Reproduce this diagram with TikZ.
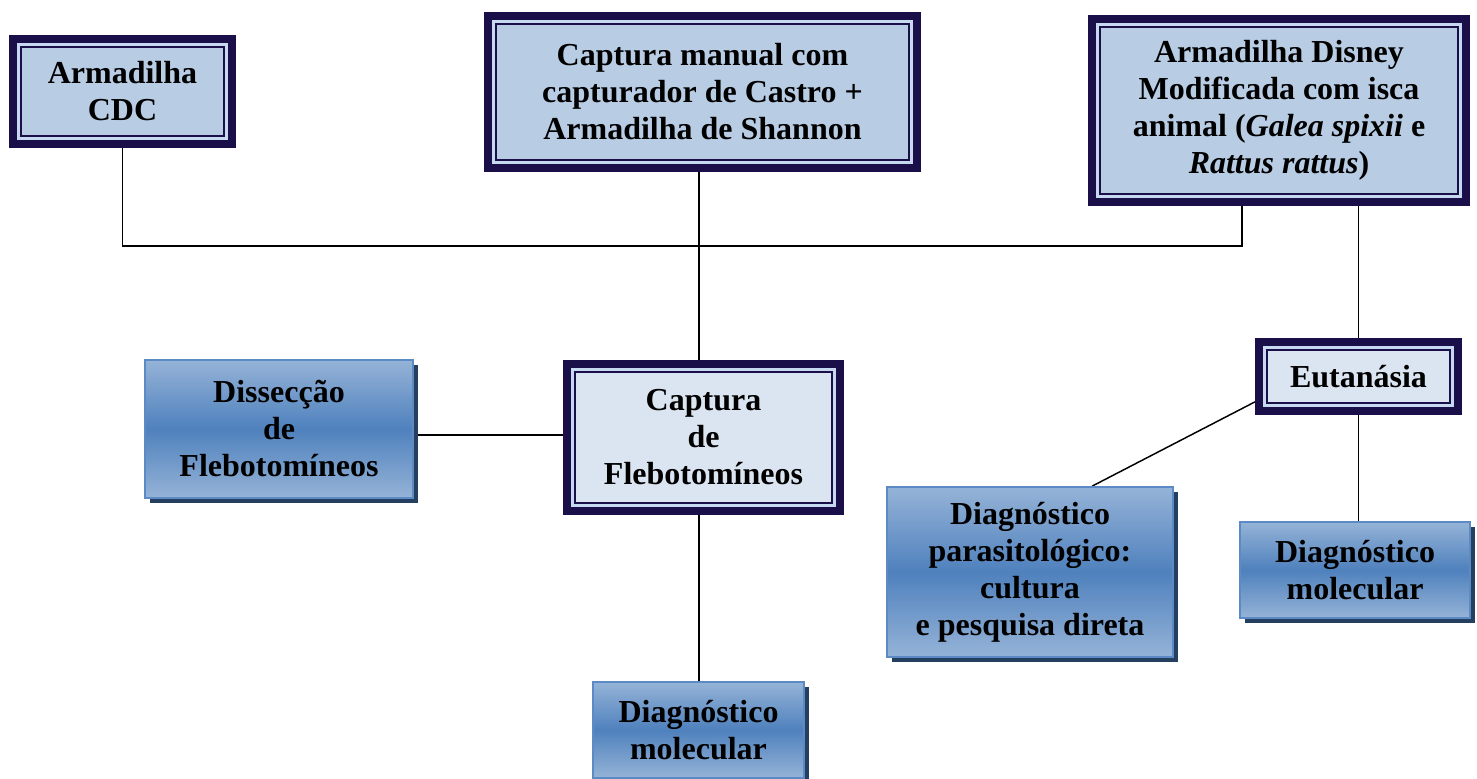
\documentclass[tikz,border=0pt]{standalone}
\usepackage{fontspec}
\setmainfont{Liberation Serif}
\usepackage{tikz}
\usetikzlibrary{backgrounds,calc,shadows,positioning}
\definecolor{framenavy}{HTML}{1B0F4A}
\definecolor{bandblue}{HTML}{C6D9F0}
\definecolor{fillblue}{HTML}{B8CCE4}
\definecolor{paleblue}{HTML}{DBE5F1}
\definecolor{gradlight}{HTML}{95B3D7}
\definecolor{graddark}{HTML}{4F81BD}
\definecolor{edgeblue}{HTML}{5B8AC4}
\definecolor{shadowblue}{HTML}{243F60}

\begin{document}
\begin{tikzpicture}[x=0.75pt,y=-0.75pt,
  txt/.style={font=\bfseries\fontsize{24}{27.75}\selectfont, align=center, inner sep=0pt},
  framed/.style={txt, draw=framenavy, line width=6pt, fill=bandblue,
    path picture={\draw[framenavy, line width=1.5pt, fill=#1]
      ([shift={(6pt,-6pt)}]path picture bounding box.north west) rectangle
      ([shift={(-6pt,6pt)}]path picture bounding box.south east);}},
  framed/.default=fillblue,
  shaded/.style={txt, draw=edgeblue, line width=1.2pt,
    top color=gradlight, bottom color=gradlight, middle color=graddark,
    drop shadow={shadow xshift=3.75pt, shadow yshift=-3.75pt, fill=shadowblue, opacity=1}},
  link/.style={black, line width=1.1pt}]
\useasboundingbox (0,0) rectangle (1477,778);

\node[framed, minimum width=164.25pt, minimum height=78.75pt] (cdc) at (122.5,91.5) {Armadilha\\CDC};
\node[framed, minimum width=321.75pt, minimum height=114pt] (manual) at (702.5,92) {Captura manual com\\capturador de Castro +\\Armadilha de Shannon};
\node[framed, minimum width=280.5pt, minimum height=137.25pt] (disney) at (1279,110.5) {Armadilha Disney\\Modificada com isca\\animal (\textit{Galea spixii} e\\\textit{Rattus rattus})};
\node[framed=paleblue, minimum width=204.75pt, minimum height=110.25pt] (capt) at (703.5,437.5) {Captura\\de\\Flebotomíneos};
\node[framed=paleblue, minimum width=149.25pt, minimum height=51.75pt] (eut) at (1358.5,376.5) {Eutanásia};

\node[shaded, minimum width=201pt, minimum height=103.5pt] (diss) at (279,429) {Dissecção\\de\\Flebotomíneos};
\node[shaded, minimum width=214.5pt, minimum height=127.5pt] (para) at (1030,572) {Diagnóstico\\parasitológico:\\cultura\\ e pesquisa direta};
\node[shaded, minimum width=172.5pt, minimum height=72pt] (molR) at (1355,570) {Diagnóstico\\molecular};
\node[shaded, minimum width=158.25pt, minimum height=72pt] (molC) at (698.5,730) {Diagnóstico\\molecular};

\coordinate (bus) at (699,246);
\begin{scope}[on background layer]
\draw[link] (cdc.south) |- (bus) -| ([xshift=-27.75pt]disney.south);
\draw[link] (manual.south -| bus) -- (capt.north -| bus);
\draw[link] (eut.north) -- (eut.north |- disney.south);
\draw[link] ([yshift=2pt]capt.west) -- ([yshift=2pt]capt.west -| diss.east);
\draw[link] (capt.south -| bus) -- (molC.north -| bus);
\draw[link] (eut.south) -- (eut.south |- molR.north);
\draw[link] ([yshift=-19pt]eut.west) -- ([xshift=46.5pt]para.north);
\end{scope}
\end{tikzpicture}
\end{document}
